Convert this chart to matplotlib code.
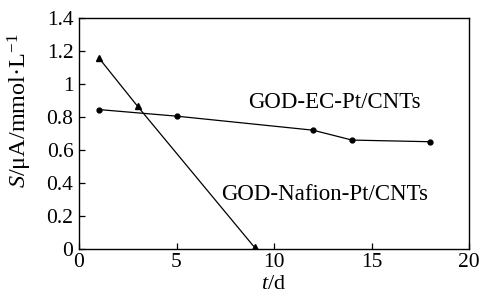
import numpy as np
import matplotlib
matplotlib.use("Agg")
import matplotlib.pyplot as plt

plt.rcParams['font.family'] = ['Liberation Serif', 'DejaVu Serif']
plt.rcParams['mathtext.fontset'] = 'custom'
plt.rcParams['mathtext.rm'] = 'Liberation Serif'
plt.rcParams['mathtext.it'] = 'Liberation Serif:italic'

# data
t_ec = [1, 5, 12, 14, 18]
s_ec = [0.845, 0.805, 0.72, 0.66, 0.65]
t_naf = [1, 3, 9]
s_naf = [1.16, 0.865, 0.01]

xticks = [0, 5, 10, 15, 20]
yticks = [0, 0.2, 0.4, 0.6, 0.8, 1.0, 1.2, 1.4]
ytick_labels = ["0", "0.2", "0.4", "0.6", "0.8", "1", "1.2", "1.4"]

fig = plt.figure(figsize=(4.85, 2.94), dpi=100)
ax = fig.add_axes([0.163, 0.153, 0.804, 0.786])

ax.plot(t_ec, s_ec, color="black", lw=0.9, marker="o", ms=3.5)
ax.plot(t_naf, s_naf, color="black", lw=0.9, marker="^", ms=4.5)

ax.text(13.1, 0.89, "GOD-EC-Pt/CNTs", fontsize=16.5, ha="center", va="center")
ax.text(12.6, 0.33, "GOD-Nafion-Pt/CNTs", fontsize=16.5, ha="center", va="center")

ax.set_xlim(0, 20)
ax.set_ylim(0, 1.4)
ax.set_xticks(xticks)
ax.set_yticks(yticks)
ax.set_yticklabels(ytick_labels)
ax.tick_params(direction="in", length=4, width=0.9, labelsize=15.5, pad=4)
ax.tick_params(axis="x", pad=3)
for sp in ax.spines.values():
    sp.set_linewidth(1.0)

ax.set_xlabel(r"$t$/d", fontsize=16, labelpad=2)
ax.set_ylabel(r"$S$/μA/mmol·L$^{-1}$", fontsize=17.5)
ax.yaxis.set_label_coords(-0.115, 0.6)

fig.savefig("out.png", dpi=100)
